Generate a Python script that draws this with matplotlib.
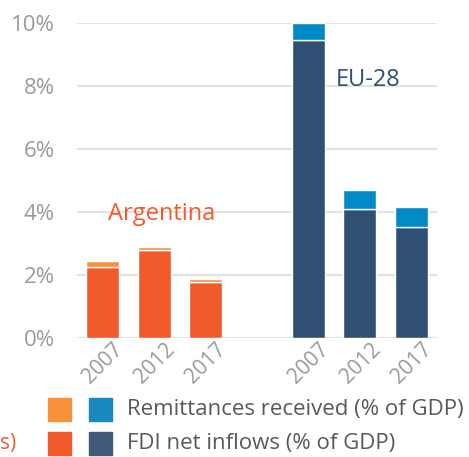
import matplotlib

matplotlib.use("Agg")
import matplotlib.pyplot as plt
import matplotlib.transforms as mtransforms
from matplotlib.patches import Rectangle

plt.rcParams["font.family"] = ["Open Sans", "DejaVu Sans"]

# data (% of GDP)
years = ["2007", "2012", "2017"]
arg_fdi = [2.25, 2.8, 1.79]
arg_remit = [0.2, 0.1, 0.09]
eu_fdi = [9.46, 4.1, 3.51]
eu_remit = [0.54, 0.59, 0.64]
y_ticks = [0, 2, 4, 6, 8, 10]
y_ticklabels = ["0%", "2%", "4%", "6%", "8%", "10%"]

ARG_FDI = "#F15A2B"
ARG_REM = "#F7923A"
EU_FDI = "#2F5072"
EU_REM = "#008BC6"
GRAY = "#9A9A9A"

fig = plt.figure(figsize=(4.69, 4.57), dpi=100)
ax = fig.add_axes([0.164, 0.2604, 0.768, 0.6893])

arg_x = [0, 1, 2]
eu_x = [4, 5, 6]
w = 0.64
ax.bar(arg_x, arg_fdi, w, color=ARG_FDI, edgecolor="white", linewidth=1, zorder=3)
ax.bar(arg_x, arg_remit, w, bottom=arg_fdi, color=ARG_REM, edgecolor="white",
       linewidth=1, zorder=3)
ax.bar(eu_x, eu_fdi, w, color=EU_FDI, edgecolor="white", linewidth=1, zorder=3)
ax.bar(eu_x, eu_remit, w, bottom=eu_fdi, color=EU_REM, edgecolor="white",
       linewidth=1, zorder=3, clip_on=False)

ax.set_xlim(-0.5, 6.5)
ax.set_ylim(0, 10)
ax.set_yticks(y_ticks)
ax.set_yticklabels(y_ticklabels, fontsize=16, color=GRAY)
ax.yaxis.grid(True, color="#E2E2E2", linewidth=1.5, zorder=0)
ax.tick_params(axis="y", length=0, pad=16)
ax.tick_params(axis="x", length=0, pad=0)
for s in ax.spines.values():
    s.set_visible(False)

ax.set_xticks(arg_x + eu_x)
ax.set_xticklabels(years + years, fontsize=15, color=GRAY, rotation=45,
                   ha="right", va="top", rotation_mode="anchor")
offset = mtransforms.ScaledTranslation(10 / 100, -1 / 100, fig.dpi_scale_trans)
for lbl in ax.get_xticklabels():
    lbl.set_transform(lbl.get_transform() + offset)

ax.text(1.15, 3.95, "Argentina", color=ARG_FDI, fontsize=17, ha="center", va="center")
ax.text(5.15, 8.2, "EU-28", color=EU_FDI, fontsize=17, ha="center", va="center")

# legend drawn by hand
W, H = 469, 457
rows = [
    (ARG_REM, "#1A88C0", "Remittances received (% of GDP)", 398),
    (ARG_FDI, "#3F5A7A", "FDI net inflows (% of GDP)", 432),
]
for c1, c2, label, ytop in rows:
    for x0, c in ((48, c1), (89, c2)):
        fig.patches.append(Rectangle((x0 / W, 1 - (ytop + 23) / H), 23 / W, 23 / H,
                                     transform=fig.transFigure, color=c))
    fig.text(127 / W, 1 - (ytop + 11.5) / H, label, fontsize=16, color="#595959",
             va="center", ha="left")
fig.text(0, 1 - 443 / H, "s)", fontsize=15, color=ARG_FDI, va="center", ha="left")

fig.savefig("out.png", dpi=100)
